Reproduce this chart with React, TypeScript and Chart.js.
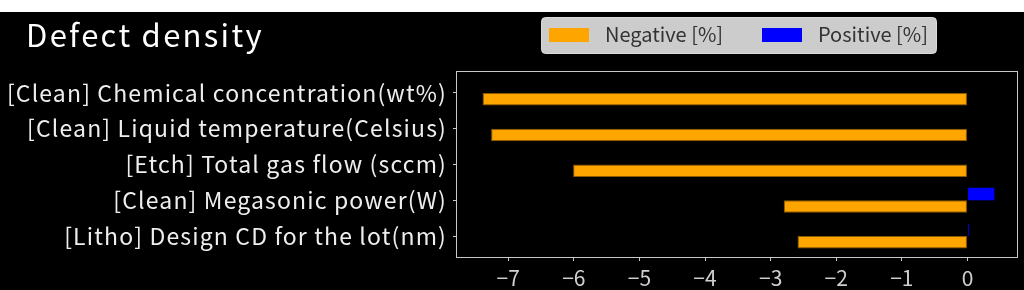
import React, { useEffect, useRef } from "react";
import { Chart, registerables } from "chart.js";

Chart.register(...registerables);

const categories = [
  "[Clean] Chemical concentration(wt%)",
  "[Clean] Liquid temperature(Celsius)",
  "[Etch] Total gas flow (sccm)",
  "[Clean] Megasonic power(W)",
  "[Litho] Design CD for the lot(nm)",
];
const negativeValues = [-7.39, -7.26, -6.01, -2.8, -2.59];
const positiveValues = [0, 0, 0, 0.41, 0.02];
const seriesNames = ["Negative [%]", "Positive [%]"];
const titleText = "Defect density";
const xMin = -7.78;
const xMax = 0.755;
const yMin = -0.585;
const yMax = 4.585;

const FONT = '"Noto Sans CJK JP", "Noto Sans", sans-serif';
const ORANGE = "#ffa500";
const BLUE = "#0000ff";

const fmt = (v: number) => (v < 0 ? "\u2212" + Math.abs(v) : String(v));

export default function App() {
  const ref = useRef<HTMLCanvasElement>(null);

  useEffect(() => {
    const canvas = ref.current;
    if (!canvas) return;

    const decor = {
      id: "decor",
      beforeDraw(chart: any) {
        const { ctx, width, height } = chart;
        ctx.save();
        ctx.fillStyle = "#ffffff";
        ctx.fillRect(0, 0, width, 12);
        ctx.fillStyle = "#000000";
        ctx.fillRect(0, 12, width, height - 12);
        ctx.restore();
        ctx.letterSpacing = "0px";
      },
      afterDatasetsDraw(chart: any) {
        // y tick labels (z = 1) are drawn after this hook: give them wider spacing
        chart.ctx.letterSpacing = "1.15px";
      },
      afterDraw(chart: any) {
        const { ctx, chartArea: a } = chart;
        ctx.letterSpacing = "0px";
        ctx.save();
        // frame
        ctx.strokeStyle = "#c8c8c8";
        ctx.lineWidth = 1;
        ctx.strokeRect(
          Math.round(a.left) - 0.5,
          Math.round(a.top) - 0.5,
          Math.round(a.right - a.left) + 1,
          Math.round(a.bottom - a.top) + 1
        );
        // title
        ctx.fillStyle = "#ffffff";
        ctx.font = `31px ${FONT}`;
        ctx.textBaseline = "alphabetic";
        ctx.textAlign = "left";
        ctx.letterSpacing = "2.3px";
        ctx.fillText(titleText, 26, 47);
        ctx.letterSpacing = "0px";
        // legend
        const bx = 541, by = 17, bw = 395, bh = 36;
        ctx.beginPath();
        ctx.roundRect(bx + 0.5, by + 0.5, bw, bh, 4);
        ctx.fillStyle = "#cccccc";
        ctx.fill();
        ctx.strokeStyle = "#dcdcdc";
        ctx.stroke();
        const ds = chart.data.datasets;
        const order = [1, 0];
        const itemX = [549, 762];
        ctx.font = `20px ${FONT}`;
        order.forEach((di, k) => {
          const d = ds[di];
          ctx.fillStyle = d.backgroundColor;
          ctx.fillRect(itemX[k], 28, 40, 14);
          ctx.fillStyle = "#333333";
          ctx.fillText(d.label, itemX[k] + 56, 42);
        });
        ctx.restore();
      },
    };

    const chart = new Chart(canvas, {
      type: "bar",
      data: {
        datasets: [
          {
            label: seriesNames[1],
            data: positiveValues.map((v, i) => ({ x: v, y: i })),
            backgroundColor: BLUE,
            borderColor: "#000080",
            borderWidth: 0,
          },
          {
            label: seriesNames[0],
            data: negativeValues.map((v, i) => ({ x: v, y: i })),
            backgroundColor: ORANGE,
            borderColor: "#8a5a00",
            borderWidth: 1,
            borderSkipped: false,
          },
        ],
      },
      options: {
        indexAxis: "y",
        animation: false,
        responsive: false,
        maintainAspectRatio: false,
        events: [],
        layout: { padding: { top: 72, left: 0, right: 7, bottom: 0 } },
        datasets: {
          bar: { categoryPercentage: 0.7, barPercentage: 1.0 },
        },
        plugins: {
          legend: { display: false },
          title: { display: false },
          tooltip: { enabled: false },
        },
        scales: {
          x: {
            type: "linear",
            position: "bottom",
            min: xMin,
            max: xMax,
            offset: false,
            afterFit: (s: any) => {
              s.height = 33;
            },
            border: { display: false },
            grid: {
              display: true,
              offset: false,
              drawOnChartArea: false,
              drawTicks: true,
              tickLength: 4,
              color: "#c8c8c8",
            },
            ticks: {
              stepSize: 1,
              includeBounds: false,
              padding: 4,
              color: "#d0d0d0",
              font: { family: FONT, size: 21 },
              maxRotation: 0,
              callback: (v: any) => fmt(Number(v)),
            },
          },
          y: {
            type: "linear",
            position: "left",
            min: yMin,
            max: yMax,
            reverse: true,
            offset: false,
            afterFit: (s: any) => {
              s.width = 457;
            },
            afterBuildTicks: (s: any) => {
              s.ticks = categories.map((_, i) => ({ value: i }));
            },
            border: { display: false },
            grid: {
              display: true,
              offset: false,
              drawOnChartArea: false,
              drawTicks: true,
              tickLength: 4,
              color: "#c8c8c8",
            },
            ticks: {
              z: 1,
              stepSize: 1,
              includeBounds: false,
              padding: 6,
              color: "#eeeeee",
              font: { family: FONT, size: 23 },
              callback: (v: any) => categories[Number(v)] ?? "",
            },
          },
        },
      },
      plugins: [decor],
    } as any);

    return () => chart.destroy();
  }, []);

  return (
    <div style={{ position: "fixed", left: 0, top: 0, width: 1024, height: 290, background: "#000" }}>
      <canvas ref={ref} width={1024} height={290} style={{ display: "block", width: 1024, height: 290 }} />
    </div>
  );
}
